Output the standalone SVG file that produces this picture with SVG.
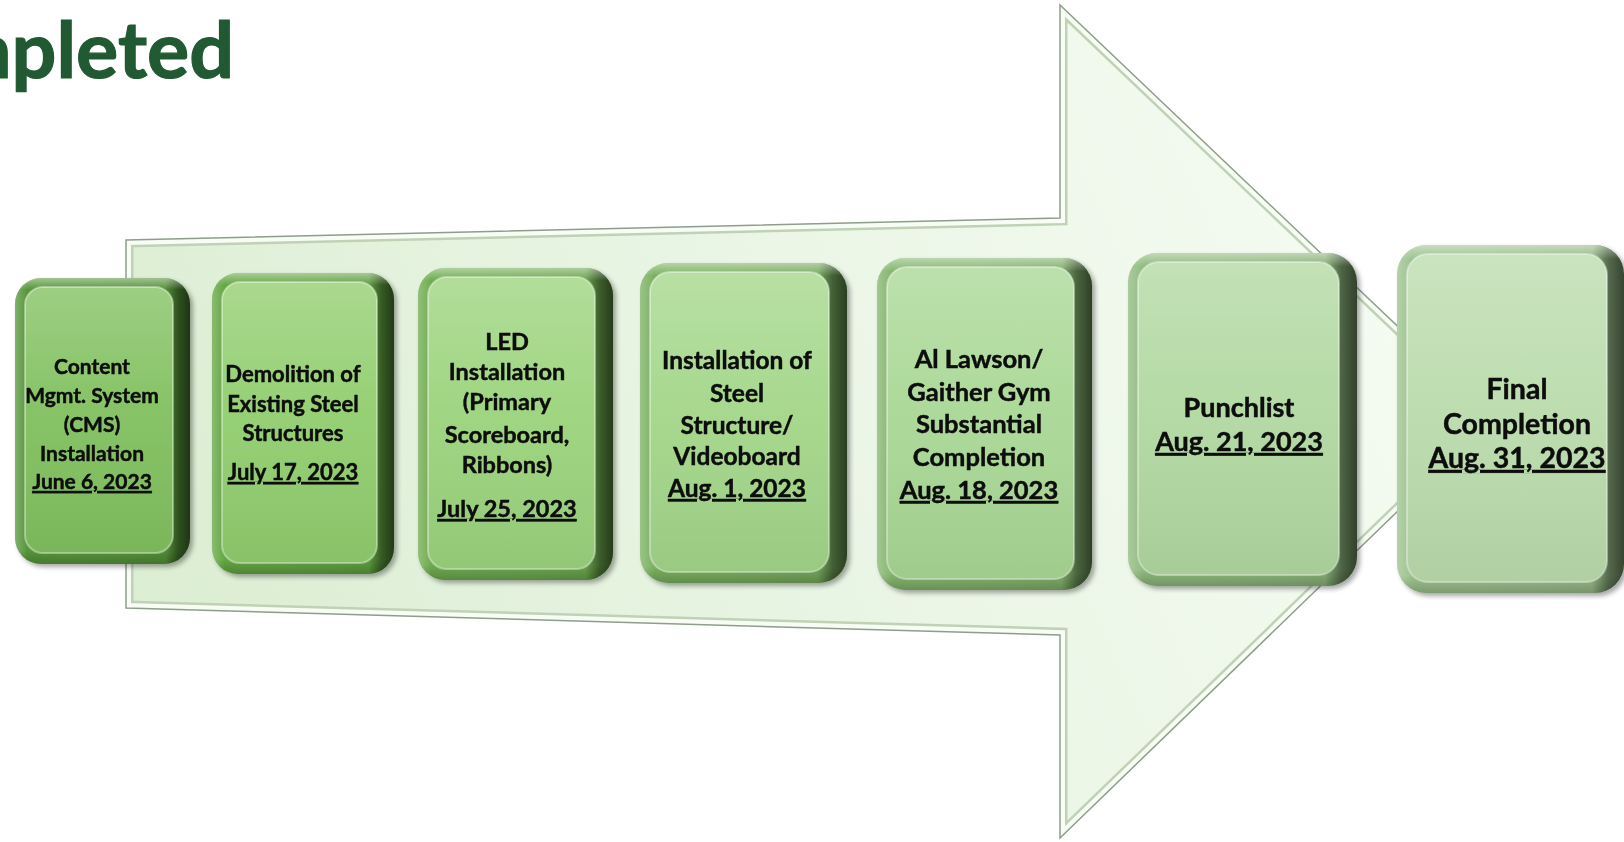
<svg xmlns="http://www.w3.org/2000/svg" width="1624" height="842" viewBox="0 0 1624 842">
<defs>
<style>
.title{font-family:Lato,"Liberation Sans",sans-serif;font-weight:700;font-size:79px;fill:#215a32;stroke:#215a32;stroke-width:1.2}
.lbl{font-family:Lato,"Open Sans","Liberation Sans",sans-serif;font-weight:700;fill:#0b0b0b;stroke:#0b0b0b;stroke-width:0.45;text-anchor:middle}
.date{text-decoration:underline}
.rim{fill:var(--rim)}
.rimH{fill:url(#rimH)}
.rimV{fill:url(#rimV)}
.face{fill:var(--face);stroke:rgba(255,255,255,0.4);stroke-width:2}
.faceS{fill:url(#faceS)}
</style>
<linearGradient id="arrowFill" gradientUnits="userSpaceOnUse" x1="126" y1="620" x2="1300" y2="80">
<stop offset="0" stop-color="#dbedd2"/>
<stop offset="0.5" stop-color="#e9f5e4"/>
<stop offset="1" stop-color="#f4fbf1"/>
</linearGradient>
<linearGradient id="rimH" x1="0" y1="0" x2="1" y2="0">
<stop offset="0" stop-color="#fff" stop-opacity="0.25"/>
<stop offset="0.07" stop-color="#fff" stop-opacity="0"/>
<stop offset="0.86" stop-color="#000" stop-opacity="0.05"/>
<stop offset="0.93" stop-color="#000" stop-opacity="0.45"/>
<stop offset="1" stop-color="#000" stop-opacity="0.65"/>
</linearGradient>
<linearGradient id="rimV" x1="0" y1="0" x2="0" y2="1">
<stop offset="0" stop-color="#fff" stop-opacity="0.45"/>
<stop offset="0.04" stop-color="#fff" stop-opacity="0"/>
<stop offset="0.95" stop-color="#000" stop-opacity="0"/>
<stop offset="1" stop-color="#000" stop-opacity="0.2"/>
</linearGradient>
<linearGradient id="faceS" x1="0" y1="0" x2="0" y2="1">
<stop offset="0" stop-color="#fff" stop-opacity="0.22"/>
<stop offset="0.45" stop-color="#fff" stop-opacity="0.04"/>
<stop offset="1" stop-color="#000" stop-opacity="0.06"/>
</linearGradient>
<clipPath id="arrowClip"><polygon points="126,240 1060,218 1060,5 1494,418 1060,838 1060,635 126,608"/></clipPath>
<filter id="sh" x="-10%" y="-10%" width="125%" height="125%">
<feGaussianBlur in="SourceAlpha" stdDeviation="2.5"/>
<feOffset dx="3" dy="3" result="b"/>
<feComponentTransfer><feFuncA type="linear" slope="0.35"/></feComponentTransfer>
<feMerge><feMergeNode/><feMergeNode in="SourceGraphic"/></feMerge>
</filter>
</defs>
<rect width="1624" height="842" fill="#ffffff"/>
<text class="title" x="234" y="78" text-anchor="end">Completed</text>

<g id="connectors">
<g id="arrow">
<polygon points="126,240 1060,218 1060,5 1494,418 1060,838 1060,635 126,608" fill="url(#arrowFill)"/>
<g clip-path="url(#arrowClip)" fill="none">
<polygon points="126,240 1060,218 1060,5 1494,418 1060,838 1060,635 126,608" stroke="#bfd2b6" stroke-width="15"/>
<polygon points="126,240 1060,218 1060,5 1494,418 1060,838 1060,635 126,608" stroke="#f7fcf5" stroke-width="10"/>
</g>
<polygon points="126,240 1060,218 1060,5 1494,418 1060,838 1060,635 126,608" fill="none" stroke="#8f9e8b" stroke-width="1.5"/>
</g>
</g>

<g id="n1" filter="url(#sh)" style="--rim:#57963a;--face:#82c160">
<rect class="rim" x="15" y="278" width="175" height="286" rx="26"/>
<rect class="rimH" x="15" y="278" width="175" height="286" rx="26"/>
<rect class="rimV" x="15" y="278" width="175" height="286" rx="26"/>
<rect class="face" x="25" y="287" width="148" height="266" rx="18"/>
<rect class="faceS" x="25" y="287" width="148" height="266" rx="18"/>
<text class="lbl" font-size="21"><tspan x="92" y="374">Content</tspan><tspan x="92" y="403">Mgmt. System</tspan><tspan x="92" y="432">(CMS)</tspan><tspan x="92" y="461">Installation</tspan><tspan class="date" x="92" y="489">June 6, 2023</tspan></text>
</g>

<g id="n2" filter="url(#sh)" style="--rim:#63a642;--face:#92ce6f">
<rect class="rim" x="212" y="273" width="182" height="301" rx="26"/>
<rect class="rimH" x="212" y="273" width="182" height="301" rx="26"/>
<rect class="rimV" x="212" y="273" width="182" height="301" rx="26"/>
<rect class="face" x="222" y="282" width="155" height="281" rx="18"/>
<rect class="faceS" x="222" y="282" width="155" height="281" rx="18"/>
<text class="lbl" font-size="22"><tspan x="293" y="382">Demolition of</tspan><tspan x="293" y="412">Existing Steel</tspan><tspan x="293" y="441">Structures</tspan><tspan class="date" x="293" y="480">July 17, 2023</tspan></text>
</g>

<g id="n3" filter="url(#sh)" style="--rim:#6eab4f;--face:#9cd47d">
<rect class="rim" x="418" y="268" width="195" height="312" rx="27"/>
<rect class="rimH" x="418" y="268" width="195" height="312" rx="27"/>
<rect class="rimV" x="418" y="268" width="195" height="312" rx="27"/>
<rect class="face" x="428" y="277" width="167" height="292" rx="19"/>
<rect class="faceS" x="428" y="277" width="167" height="292" rx="19"/>
<text class="lbl" font-size="23.5"><tspan x="507" y="350">LED</tspan><tspan x="507" y="380">Installation</tspan><tspan x="507" y="410">(Primary</tspan><tspan x="507" y="443">Scoreboard,</tspan><tspan x="507" y="473">Ribbons)</tspan><tspan class="date" x="507" y="517">July 25, 2023</tspan></text>
</g>

<g id="n4" filter="url(#sh)" style="--rim:#7ab05f;--face:#a4d78a">
<rect class="rim" x="640" y="263" width="207" height="320" rx="28"/>
<rect class="rimH" x="640" y="263" width="207" height="320" rx="28"/>
<rect class="rimV" x="640" y="263" width="207" height="320" rx="28"/>
<rect class="face" x="650" y="272" width="179" height="300" rx="20"/>
<rect class="faceS" x="650" y="272" width="179" height="300" rx="20"/>
<text class="lbl" font-size="24.5"><tspan x="737" y="369">Installation of</tspan><tspan x="737" y="402">Steel</tspan><tspan x="737" y="434">Structure/</tspan><tspan x="737" y="465">Videoboard</tspan><tspan class="date" x="737" y="497">Aug. 1, 2023</tspan></text>
</g>

<g id="n5" filter="url(#sh)" style="--rim:#84b56d;--face:#aad896">
<rect class="rim" x="877" y="258" width="215" height="332" rx="28"/>
<rect class="rimH" x="877" y="258" width="215" height="332" rx="28"/>
<rect class="rimV" x="877" y="258" width="215" height="332" rx="28"/>
<rect class="face" x="887" y="267" width="187" height="312" rx="20"/>
<rect class="faceS" x="887" y="267" width="187" height="312" rx="20"/>
<text class="lbl" font-size="25.5"><tspan x="979" y="368">Al Lawson/</tspan><tspan x="979" y="401">Gaither Gym</tspan><tspan x="979" y="433">Substantial</tspan><tspan x="979" y="466">Completion</tspan><tspan class="date" x="979" y="499">Aug. 18, 2023</tspan></text>
</g>

<g id="n6" filter="url(#sh)" style="--rim:#8fba7e;--face:#b2d9a2">
<rect class="rim" x="1128" y="253" width="229" height="333" rx="29"/>
<rect class="rimH" x="1128" y="253" width="229" height="333" rx="29"/>
<rect class="rimV" x="1128" y="253" width="229" height="333" rx="29"/>
<rect class="face" x="1138" y="262" width="201" height="313" rx="21"/>
<rect class="faceS" x="1138" y="262" width="201" height="313" rx="21"/>
<text class="lbl" font-size="27"><tspan x="1239" y="417">Punchlist</tspan><tspan class="date" x="1239" y="451">Aug. 21, 2023</tspan></text>
</g>

<g id="n7" filter="url(#sh)" style="--rim:#9cc28d;--face:#bbdcad">
<rect class="rim" x="1397" y="245" width="227" height="348" rx="29"/>
<rect class="rimH" x="1397" y="245" width="227" height="348" rx="29"/>
<rect class="rimV" x="1397" y="245" width="227" height="348" rx="29"/>
<rect class="face" x="1407" y="254" width="200" height="328" rx="21"/>
<rect class="faceS" x="1407" y="254" width="200" height="328" rx="21"/>
<text class="lbl" font-size="28.5"><tspan x="1517" y="399">Final</tspan><tspan x="1517" y="434">Completion</tspan><tspan class="date" x="1517" y="468">Aug. 31, 2023</tspan></text>
</g>
</svg>
